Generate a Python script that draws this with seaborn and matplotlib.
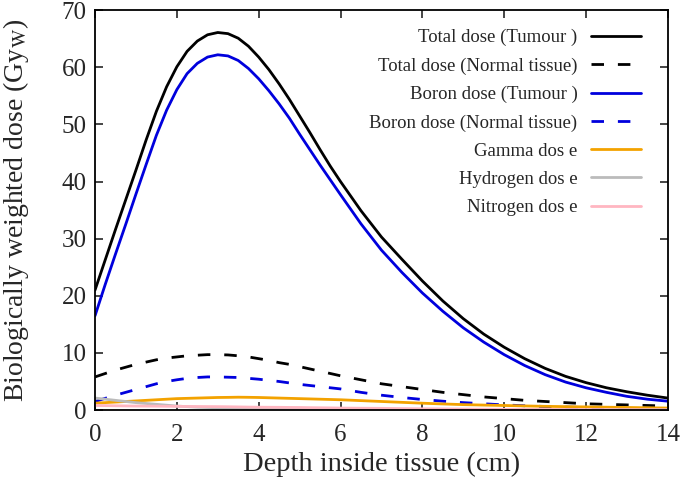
import numpy as np
import pandas as pd
import matplotlib
matplotlib.use('Agg')
import matplotlib.pyplot as plt
import seaborn as sns

# depth (cm): finer steps over the peak, coarser on the tail
depth = [0, 0.25, 0.5, 0.75, 1, 1.25, 1.5, 1.75, 2, 2.25, 2.5, 2.75, 3, 3.25, 3.5, 3.75,
         4, 4.25, 4.5, 4.75, 5, 5.25, 5.5, 5.75, 6,
         6.5, 7, 7.5, 8, 8.5, 9, 9.5, 10, 10.5, 11, 11.5, 12, 12.5, 13, 13.5, 14]

total_tumour = [21.0, 26.3, 31.6, 36.8, 42.0, 47.3, 52.3, 56.6, 60.1, 62.8, 64.6, 65.7, 66.1,
                65.9, 65.1, 63.7, 61.8, 59.6, 57.1, 54.4, 51.5, 48.6, 45.6, 42.7, 40.0,
                34.9, 30.3, 26.4, 22.6, 19.1, 16.0, 13.3, 11.0, 9.0, 7.3, 5.9, 4.8, 3.9, 3.2, 2.6, 2.1]
total_normal = [5.8, 6.4, 7.0, 7.5, 8.0, 8.4, 8.8, 9.1, 9.3, 9.5, 9.6, 9.7, 9.7,
                9.65, 9.5, 9.3, 9.0, 8.7, 8.3, 8.0, 7.6, 7.2, 6.8, 6.4, 6.0,
                5.3, 4.6, 4.1, 3.6, 3.1, 2.7, 2.3, 2.0, 1.7, 1.5, 1.3, 1.1, 1.0, 0.9, 0.8, 0.7]
boron_tumour = [16.5, 22.0, 27.3, 32.5, 37.8, 43.0, 48.1, 52.5, 56.1, 58.9, 60.7, 61.8, 62.2,
                62.0, 61.2, 59.8, 58.0, 55.9, 53.6, 51.1, 48.3, 45.6, 42.9, 40.3, 37.7,
                32.6, 28.0, 24.1, 20.5, 17.3, 14.4, 11.9, 9.7, 7.8, 6.2, 4.9, 3.9, 3.1, 2.4, 1.9, 1.55]
boron_normal = [1.5, 2.05, 2.6, 3.1, 3.6, 4.1, 4.6, 5.0, 5.3, 5.55, 5.7, 5.8, 5.8,
                5.75, 5.7, 5.55, 5.4, 5.2, 5.0, 4.75, 4.5, 4.3, 4.1, 3.9, 3.7,
                3.1, 2.6, 2.2, 1.85, 1.55, 1.3, 1.1, 0.9, 0.75, 0.62, 0.52, 0.44, 0.37, 0.31, 0.26, 0.22]
gamma = [1.2, 1.3, 1.4, 1.5, 1.6, 1.7, 1.8, 1.9, 2.0, 2.05, 2.1, 2.15, 2.2,
         2.22, 2.25, 2.23, 2.2, 2.15, 2.1, 2.05, 2.0, 1.95, 1.9, 1.85, 1.8,
         1.65, 1.5, 1.35, 1.2, 1.07, 0.95, 0.87, 0.8, 0.72, 0.65, 0.6, 0.55, 0.5, 0.45, 0.4, 0.35]
hydrogen = [2.1, 1.9, 1.7, 1.5, 1.3, 1.15, 1.0, 0.85, 0.7, 0.6, 0.5, 0.45, 0.4,
            0.36, 0.32, 0.28, 0.25, 0.22, 0.2, 0.17, 0.15, 0.13, 0.12, 0.11, 0.1,
            0.08, 0.06, 0.05, 0.04, 0.04, 0.03, 0.03, 0.03, 0.02, 0.02, 0.02, 0.02, 0.02, 0.02, 0.02, 0.02]
nitrogen = [0.8, 0.78, 0.75, 0.72, 0.7, 0.69, 0.68, 0.66, 0.65, 0.63, 0.62, 0.61, 0.6,
            0.58, 0.55, 0.52, 0.5, 0.49, 0.48, 0.46, 0.45, 0.42, 0.4, 0.38, 0.35,
            0.32, 0.3, 0.26, 0.22, 0.2, 0.17, 0.15, 0.13, 0.12, 0.1, 0.09, 0.08, 0.07, 0.06, 0.055, 0.05]

labels = ['Total dose (Tumour )', 'Total dose (Normal tissue)', 'Boron dose (Tumour )',
          'Boron dose (Normal tissue)', 'Gamma dos e', 'Hydrogen dos e', 'Nitrogen dos e']
series = [total_tumour, total_normal, boron_tumour, boron_normal, gamma, hydrogen, nitrogen]
colors = ['black', 'black', '#0000dd', '#0000dd', '#f3a200', '#bbbbbb', '#ffb6c1']
dashed = [False, True, False, True, False, False, False]

sns.set_style('ticks')
plt.rcParams['font.family'] = ['Liberation Serif', 'DejaVu Serif']
plt.rcParams['mathtext.fontset'] = 'stix'

fig = plt.figure(figsize=(6.85, 4.87), dpi=100)
ax = fig.add_axes([0.1387, 0.158, 0.8363, 0.821])

for vals, lab, c, d in zip(series, labels, colors, dashed):
    sns.lineplot(x=depth, y=vals, ax=ax, color=c, lw=2, label=lab)
    if d:
        ax.lines[-1].set_dashes([4.5, 5])

ax.set_xlim(0, 14)
ax.set_ylim(0, 70)
ax.set_xticks(range(0, 15, 2))
ax.set_yticks(range(0, 71, 10))
ax.tick_params(direction='in', top=True, right=True, length=6, width=1.2, labelsize=18)
ax.tick_params(axis='x', pad=10)
ax.tick_params(axis='y', pad=6)
for s in ax.spines.values():
    s.set_linewidth(1.3)
    s.set_color('black')

ax.set_xlabel('Depth inside tissue (cm)', fontsize=20.5)
ax.set_ylabel(r'Biologically weighted dose (Gy$_\mathrm{W}$)', fontsize=20)
ax.xaxis.set_label_coords(0.5, -0.105)
ax.yaxis.set_label_coords(-0.112, 0.5)

ax.legend(frameon=False, loc='upper right', bbox_to_anchor=(0.983, 0.995), markerfirst=False,
          fontsize=13.5, handlelength=2.7, handletextpad=0.7, labelspacing=0.59,
          borderaxespad=0.5)

fig.savefig('out.png', dpi=100)
